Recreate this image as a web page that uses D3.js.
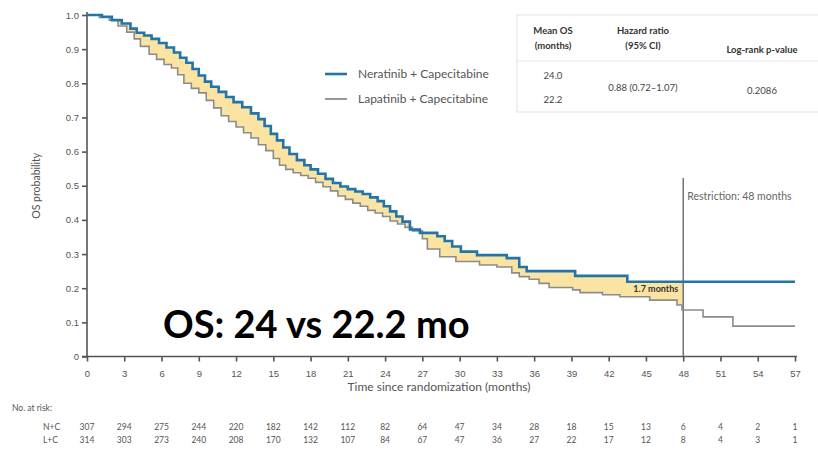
<!DOCTYPE html>
<html>
<head>
<meta charset="utf-8">
<script src="https://cdn.jsdelivr.net/npm/d3@7"></script>
<style>
  body { margin: 0; background: #fff; }
  svg { display: block; font-family: Lato, "Open Sans", sans-serif; }
</style>
</head>
<body>
<div class="km-chart"></div>
<script>
// Neratinib + Capecitabine (N+C), step times (months) and OS probability
const nTimes = [0, 1.2, 2.0, 2.8, 3.5, 4.0, 4.6, 5.2, 5.8, 6.4, 7.0, 7.5, 8.0, 8.5, 9.0, 9.5, 10.0, 10.6, 11.2, 11.8,
  12.5, 13.2, 13.8, 14.3, 14.8, 15.3, 15.8, 16.3, 16.9, 17.5, 18.0, 18.6, 19.2, 19.8, 20.4, 21.0, 21.6, 22.2, 22.8,
  23.4, 23.9, 24.4, 24.9, 25.4, 26.0, 26.8, 28.2, 28.8, 29.4, 30.1, 31.4, 33.8, 34.8, 35.4, 39.3, 43.5, 57];
const nSurv = [1.0, 0.995, 0.985, 0.975, 0.96, 0.948, 0.94, 0.93, 0.918, 0.905, 0.89, 0.875, 0.86, 0.842, 0.823, 0.805, 0.79, 0.775, 0.76, 0.745,
  0.73, 0.712, 0.695, 0.675, 0.652, 0.633, 0.612, 0.593, 0.575, 0.56, 0.548, 0.535, 0.52, 0.508, 0.498, 0.49, 0.483, 0.476, 0.466,
  0.455, 0.44, 0.425, 0.41, 0.395, 0.372, 0.362, 0.352, 0.338, 0.322, 0.307, 0.297, 0.288, 0.262, 0.25, 0.236, 0.219, 0.219];

// Lapatinib + Capecitabine (L+C)
const lTimes = [0, 1.0, 1.8, 2.5, 3.2, 3.8, 4.3, 5.0, 5.6, 6.2, 6.8, 7.3, 7.8, 8.4, 9.0, 9.6, 10.2, 10.8, 11.4, 12.0,
  12.6, 13.2, 13.8, 14.4, 15.0, 15.5, 16.0, 16.6, 17.2, 17.8, 18.4, 19.0, 19.6, 20.2, 20.8, 21.4, 22.0, 22.6, 23.2,
  23.8, 24.4, 25.0, 25.6, 26.2, 27.0, 27.4, 28.4, 29.7, 31.6, 33.0, 34.2, 34.8, 35.6, 36.4, 37.2, 39.1, 39.7, 41.5,
  42.9, 45.3, 47.5, 47.9, 49.6, 52.0, 57];
const lSurv = [1.0, 0.993, 0.985, 0.968, 0.95, 0.93, 0.908, 0.885, 0.87, 0.855, 0.845, 0.825, 0.8, 0.785, 0.772, 0.75, 0.728, 0.705, 0.688, 0.672,
  0.655, 0.64, 0.62, 0.603, 0.58, 0.56, 0.548, 0.538, 0.53, 0.522, 0.51, 0.497, 0.485, 0.47, 0.46, 0.449, 0.44, 0.428, 0.42,
  0.41, 0.397, 0.388, 0.378, 0.368, 0.345, 0.315, 0.292, 0.278, 0.268, 0.262, 0.245, 0.234, 0.226, 0.214, 0.202, 0.195, 0.187, 0.181,
  0.175, 0.165, 0.151, 0.136, 0.116, 0.089, 0.089];

const xTicks = d3.range(0, 58, 3);
const yTicks = [0, 0.1, 0.2, 0.3, 0.4, 0.5, 0.6, 0.7, 0.8, 0.9, 1.0];
const atRiskN = [307, 294, 275, 244, 220, 182, 142, 112, 82, 64, 47, 34, 28, 18, 15, 13, 6, 4, 2, 1];
const atRiskL = [314, 303, 273, 240, 208, 170, 132, 107, 84, 67, 47, 36, 27, 22, 17, 12, 8, 4, 3, 1];
const restriction = 48;

const seriesNames = ["Neratinib + Capecitabine", "Lapatinib + Capecitabine"];
const colors = ["#2274a9", "#8c8c8c"];

const width = 818, height = 451;
const svg = d3.select(".km-chart").append("svg").attr("width", width).attr("height", height);

const x = d3.scaleLinear().domain([0, 57]).range([87, 795]);
const y = d3.scaleLinear().domain([0, 1]).range([356.5, 15]);

const nData = nTimes.map((t, i) => ({ t, s: nSurv[i] }));
const lData = lTimes.map((t, i) => ({ t, s: lSurv[i] }));

// step lookup for the shaded area between the curves
function stepAt(data, t) {
  let v = data[0].s;
  for (const d of data) { if (d.t <= t) v = d.s; else break; }
  return v;
}
const fillTimes = Array.from(new Set(nTimes.concat(lTimes).filter(t => t <= restriction).concat([restriction]))).sort((a, b) => a - b);
const fillData = fillTimes.map(t => ({ t, a: stepAt(nData, t), b: stepAt(lData, t) }));

svg.append("path")
  .datum(fillData)
  .attr("fill", "#fbe3a2")
  .attr("d", d3.area().curve(d3.curveStepAfter).x(d => x(d.t)).y0(d => y(d.b)).y1(d => y(d.a)));

// axes
const yAxis = svg.append("g")
  .attr("transform", `translate(${x(0)},0)`)
  .call(d3.axisLeft(y).tickValues(yTicks).tickSize(5).tickSizeOuter(0).tickPadding(3)
    .tickFormat(d => d === 0 ? "0" : d.toFixed(1)));
yAxis.select(".domain").attr("d", `M0,${y(1) - 3}V${y(0)}`);

const xAxis = svg.append("g")
  .attr("transform", `translate(0,${y(0)})`)
  .call(d3.axisBottom(x).tickValues(xTicks).tickSize(5).tickSizeOuter(0).tickPadding(9));
xAxis.select(".domain").attr("d", `M${x(0) - 5},0H${x(57) + 2}`);

svg.selectAll(".domain, .tick line").attr("stroke", "#555").attr("stroke-width", 1.6);
svg.selectAll(".tick text").attr("fill", "#555").style("font-size", "9.5px");

svg.append("text")
  .attr("transform", `translate(40,${y(0.5)}) rotate(-90)`)
  .attr("text-anchor", "middle")
  .attr("fill", "#555")
  .style("font-size", "10.5px")
  .text("OS probability");

svg.append("text")
  .attr("x", 439).attr("y", 391)
  .attr("text-anchor", "middle")
  .attr("fill", "#555")
  .style("font-size", "12px")
  .text("Time since randomization (months)");

// restriction line
svg.append("line")
  .attr("x1", x(restriction)).attr("x2", x(restriction))
  .attr("y1", y(0.523)).attr("y2", y(0))
  .attr("stroke", "#5a5f66").attr("stroke-width", 1.3);

svg.append("text")
  .attr("x", x(restriction) + 4).attr("y", 200)
  .attr("fill", "#666")
  .style("font-size", "10.5px")
  .text("Restriction: 48 months");

// curves
const line = d3.line().curve(d3.curveStepAfter).x(d => x(d.t)).y(d => y(d.s));
svg.append("path").datum(lData)
  .attr("fill", "none").attr("stroke", colors[1]).attr("stroke-width", 1.6)
  .attr("d", line);
svg.append("path").datum(nData)
  .attr("fill", "none").attr("stroke", colors[0]).attr("stroke-width", 2.6)
  .attr("d", line);

svg.append("text")
  .attr("x", x(47.6)).attr("y", y(0.19))
  .attr("text-anchor", "end")
  .attr("fill", "#333")
  .style("font-size", "9px")
  .style("font-weight", "bold")
  .text("1.7 months");

// legend
const legend = svg.append("g");
seriesNames.forEach((name, i) => {
  const ly = 74 + i * 25;
  legend.append("line")
    .attr("x1", 325).attr("x2", 347).attr("y1", ly).attr("y2", ly)
    .attr("stroke", colors[i]).attr("stroke-width", i === 0 ? 2.6 : 1.8);
  legend.append("text")
    .attr("x", 358).attr("y", ly + 4)
    .attr("fill", "#555")
    .style("font-size", "12px")
    .text(name);
});

// stats table
const table = svg.append("g").style("font-size", "9.5px").attr("fill", "#444");
table.append("rect")
  .attr("x", 517).attr("y", 15).attr("width", 310).attr("height", 97)
  .attr("fill", "#fff").attr("stroke", "#e4e4e4");
table.append("line")
  .attr("x1", 517).attr("x2", 818).attr("y1", 61).attr("y2", 61)
  .attr("stroke", "#e8e8e8");
const header = [
  { x: 553, lines: ["Mean OS", "(months)"], y: 34 },
  { x: 643, lines: ["Hazard ratio", "(95% CI)"], y: 34 },
  { x: 762, lines: ["Log-rank p-value"], y: 53 }
];
header.forEach(h => {
  h.lines.forEach((t, i) => {
    table.append("text")
      .attr("x", h.x).attr("y", h.y + i * 15)
      .attr("text-anchor", "middle")
      .style("font-weight", "bold")
      .attr("fill", "#333")
      .text(t);
  });
});
table.append("text").attr("x", 553).attr("y", 79).attr("text-anchor", "middle").text("24.0");
table.append("text").attr("x", 553).attr("y", 103).attr("text-anchor", "middle").text("22.2");
table.append("text").attr("x", 643).attr("y", 91).attr("text-anchor", "middle").text("0.88 (0.72\u20131.07)");
table.append("text").attr("x", 762).attr("y", 94).attr("text-anchor", "middle").text("0.2086");

// big annotation
svg.append("text")
  .attr("x", 163).attr("y", 338)
  .attr("fill", "#000")
  .style("font-size", "38px")
  .style("font-weight", "bold")
  .text("OS: 24 vs 22.2 mo");

// number at risk
const risk = svg.append("g").attr("fill", "#555").style("font-size", "8.5px");
risk.append("text").attr("x", 12).attr("y", 411).text("No. at risk:");
[["N+C", atRiskN, 430], ["L+C", atRiskL, 443]].forEach(([lab, vals, ry]) => {
  risk.append("text").attr("x", 43).attr("y", ry).text(lab);
  risk.selectAll(null)
    .data(vals)
    .enter()
    .append("text")
    .attr("x", (d, i) => x(xTicks[i]))
    .attr("y", ry)
    .attr("text-anchor", "middle")
    .text(d => d);
});
</script>
</body>
</html>
